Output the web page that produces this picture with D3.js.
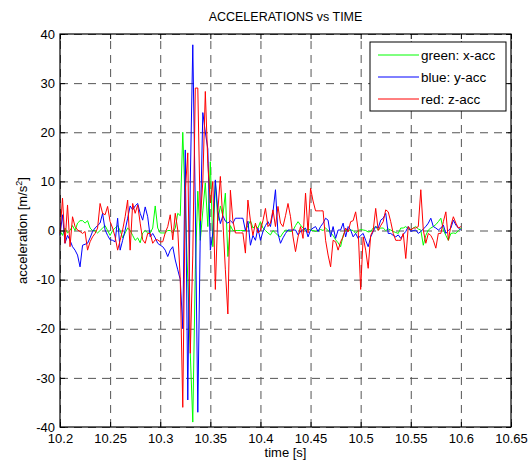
<!DOCTYPE html>
<html>
<head>
<meta charset="utf-8">
<script src="https://cdn.jsdelivr.net/npm/d3@7"></script>
<style>
  body { margin: 0; background: #fff; }
  svg text { font-family: "Liberation Sans", Arial, Helvetica, sans-serif; fill: #000; }
</style>
</head>
<body>
<div id="chart"></div>
<script>
// ============================================================
// Accelerations vs time (MATLAB-style line plot)
// ============================================================

// ── data ────────────────────────────────────────────────────
const T_START = 10.2;     // first sample [s]
const T_STEP  = 0.0025;   // sample interval [s]

const X_TICKS = [10.2, 10.25, 10.3, 10.35, 10.4, 10.45, 10.5, 10.55, 10.6, 10.65];
const Y_TICKS = [-40, -30, -20, -10, 0, 10, 20, 30, 40];

const GREEN_X_ACC = [
  0, -1, 0.5, -0.5, 0, 1, 0, 1.5, 2, 2,
  1.5, 2, 0.5, 0, 0, -0.5, 0, 0.5, 1, 0,
  -1, 0, 0.5, 1, 0, -1.5, -0.5, 0.5, 0, -1,
  -2, -1.5, -2.5, -0.5, 0, -0.5, -0.5, 0.5, 5, 0.5,
  -0.5, -0.5, -0.5, 0, 0, -0.5, 0.5, 3.5, 3, 20,
  5, -10, -25, -39, -8, 8, -2, 4, 9.7, 0.8,
  14, -3.3, 9.7, 2, 5, 3, 7.6, -5.3, 1, 0,
  0, 0, 0, 0, 0, 1, 2, 0.5, 1, 0.5,
  1.8, 0.5, 0, -0.5, -0.9, 0, -0.5, -1, -1.3, -0.5,
  0.1, 0, -0.2, 0, 1, 1.8, 1.1, 0.5, 0, 0.3,
  0.1, 0, -0.2, 0, 0.2, 0, 0.5, 0, -0.5, -1,
  -1.9, -2.5, -3.3, -1, 0.1, 0, 0.1, 0, -0.6, 0,
  0.2, 0.1, 0, -0.3, -0.2, 0.5, 0.8, 0.1, 0.5, 0.5,
  0, 0.3, 0.1, -0.2, -0.4, -0.6, 0.5, 0.5, 0.8, 0.3,
  0.1, 0.5, 0.8, 0.3, 0.1, -3, -1, 0.1, 0.5, 0.8,
  1.2, 1.8, 2.5, 0.1, -1, -2, -0.6, -0.5, -0.6, 0,
  0.5
];

const BLUE_Y_ACC = [
  -1, 3.2, -2.6, -1, -2, -3.3, -4, -5, -7.4, -3,
  -2.8, -2.6, -1.5, -0.2, 0.5, 1, 1.5, 3.5, 0.1, -1,
  -1.9, -2, -2.3, 2.5, -4, -2, 0.1, 2.5, 5, 4.2,
  5, 5.5, 3.5, 2.1, 4.8, 2.8, -1.3, -0.6, -1.5, -2.6,
  -3, -3.3, -4, -5.3, -4, -3.3, -6, -8, -10, -20,
  16.4, -34.5, 10, 37.8, 5, -37, 0, 24, 20, 16.6,
  -4, -0.5, 10.3, 4, 1.4, 3, 1.9, 1.5, 2, 1.5,
  2.5, 2.5, 2.5, 2.5, 0, 1.9, -3, -1, -2, 0.5,
  -2, -0.2, 1, 1.8, 0.8, 3.8, 8.3, -0.6, -2.6, -1.5,
  -0.6, 0.1, 0.1, 0.1, 0.1, -0.9, -0.2, 0.2, 0.5, -1.3,
  0.1, 0.5, 0.8, -0.2, 0.8, 1.5, 2.5, 2.1, -1.3, 0.8,
  -1.6, 0.1, 0.1, 1.5, -1.3, 0.8, 0.1, -1.3, -0.6, -1.6,
  -1, -0.6, -2, -3.3, -1.3, -0.2, 0.8, 0.5, 2.1, 2.5,
  3.5, -0.6, -0.6, -1, -1.3, -0.9, -1.6, -0.8, -0.2, 0.8,
  -0.2, 0, 0.1, -0.6, -0.2, 0.3, 0.8, 1.5, 2.5, 0.8,
  0.5, 0.1, 0.5, 1.1, -0.6, 0, 0.5, 2.1, 1.1, 0.5,
  0.1
];

const RED_Z_ACC = [
  -0.6, 6.6, -2.6, 5.2, -3.3, 2.8, 0.8, 0.1, -0.2, -0.6,
  -0.2, -4, -2.3, -1.3, -0.6, 0.5, 5.5, 3.5, 3.2, 4.9,
  1.8, 0.5, -1.3, -4, -2, 0.1, 2.8, 6.2, -4, 5.5,
  3.5, 5.2, 1.5, -1.9, -2.6, -0.6, -0.6, -2.6, -1.9, -1.9,
  -2.3, -2.3, -0.5, 0.8, 3.2, -1.9, 3.5, 0.1, -10, -36,
  8, 15.8, -25, -5, 29, 29, 2, 10, 28.3, 13.7,
  5.6, 10, -12, 4, 11, 2, -8, -17, 8.2, 2,
  -0.5, -0.5, -0.5, -0.5, -4.6, 6.2, 2, -1, 1.5, -0.5,
  0, 2, 4.5, 0.8, 1.5, 4.2, 0.8, 4.9, 1.5, 0.8,
  3, 5.5, 2.8, -1.3, -4.3, -1.3, 0.8, -1.6, 7.6, -0.5,
  8.6, 6, 4, 4, 4, 4, -2, -5, -7.4, -2,
  -2.3, -4, -2.3, -1.3, 0.5, -0.3, 1.8, 2, 3.8, 0.1,
  -12, -1.3, -4, -7.7, -1, 0, 4.5, 0, 1, 1.8,
  4.2, 3.8, 1.8, -0.6, -2, -2, -2, -0.6, -5.7, 0.8,
  0.1, 0.5, 0.5, 0.8, 8.3, 0.1, -2.6, -0.6, -1, -2,
  -3.6, -0.6, -0.6, 1.8, 3.8, -2, 1, 2.8, 1.5, 0.5,
  0.8
];

const SERIES_LABELS = ["green: x-acc", "blue: y-acc", "red: z-acc"];

(function () {
  // Dimensions
  const W = 530, H = 469;
  const MARGIN = { top: 34, right: 19, bottom: 42, left: 60 };
  const WIDTH  = W - MARGIN.left - MARGIN.right;
  const HEIGHT = H - MARGIN.top  - MARGIN.bottom;

  const COLOURS = ["#00ff00", "#0000ff", "#ff0000"];
  const TICK = 5;

  const series = [GREEN_X_ACC, BLUE_Y_ACC, RED_Z_ACC].map((vals, k) => ({
    label: SERIES_LABELS[k],
    colour: COLOURS[k],
    points: vals.map((v, i) => ({ t: T_START + i * T_STEP, v }))
  }));

  const svg = d3.select("#chart").append("svg")
    .attr("width", W).attr("height", H);

  svg.append("rect").attr("width", W).attr("height", H).attr("fill", "#fff");

  const g = svg.append("g")
    .attr("transform", `translate(${MARGIN.left},${MARGIN.top})`);

  const x = d3.scaleLinear().domain([10.2, 10.65]).range([0, WIDTH]);
  const y = d3.scaleLinear().domain([-40, 40]).range([HEIGHT, 0]);

  const fmt = d => String(+d.toFixed(2));

  // ── grid (dashed, behind data) ──
  g.append("g").attr("class", "grid")
    .attr("transform", `translate(0,${HEIGHT})`)
    .call(d3.axisBottom(x).tickValues(X_TICKS).tickSize(-HEIGHT).tickFormat(""))
    .call(s => s.select(".domain").remove());
  g.append("g").attr("class", "grid")
    .call(d3.axisLeft(y).tickValues(Y_TICKS).tickSize(-WIDTH).tickFormat(""))
    .call(s => s.select(".domain").remove());
  g.selectAll(".grid line")
    .attr("stroke", "#555")
    .attr("stroke-width", 1)
    .attr("stroke-dasharray", "8,6");

  // ── lines ──
  const line = d3.line().x(d => x(d.t)).y(d => y(d.v));
  g.selectAll(".series").data(series).join("path")
    .attr("class", "series")
    .attr("fill", "none")
    .attr("stroke", d => d.colour)
    .attr("stroke-width", 1)
    .attr("stroke-linejoin", "miter")
    .attr("d", d => line(d.points));

  // ── axes (ticks inside, box on) ──
  const styleAxis = s => {
    s.select(".domain").remove();
    s.selectAll("line").attr("stroke", "#000");
    s.selectAll("text").style("font-size", "13px").attr("fill", "#000");
  };

  g.append("g").attr("transform", `translate(0,${HEIGHT})`)
    .call(d3.axisBottom(x).tickValues(X_TICKS).tickSize(-TICK).tickPadding(7).tickFormat(fmt))
    .call(styleAxis);
  g.append("g")
    .call(d3.axisTop(x).tickValues(X_TICKS).tickSize(-TICK).tickFormat(""))
    .call(styleAxis);
  g.append("g")
    .call(d3.axisLeft(y).tickValues(Y_TICKS).tickSize(-TICK).tickPadding(5).tickFormat(d => String(d)))
    .call(styleAxis);
  g.append("g").attr("transform", `translate(${WIDTH},0)`)
    .call(d3.axisRight(y).tickValues(Y_TICKS).tickSize(-TICK).tickFormat(""))
    .call(styleAxis);

  g.append("rect")
    .attr("width", WIDTH).attr("height", HEIGHT)
    .attr("fill", "none").attr("stroke", "#000").attr("stroke-width", 1.2);

  // ── title & labels ──
  svg.append("text")
    .attr("x", MARGIN.left + WIDTH / 2).attr("y", 20.5)
    .attr("text-anchor", "middle")
    .style("font-size", "12.5px")
    .text("ACCELERATIONS vs TIME");

  svg.append("text")
    .attr("x", MARGIN.left + WIDTH / 2).attr("y", 457)
    .attr("text-anchor", "middle")
    .style("font-size", "13px")
    .text("time [s]");

  const yl = svg.append("text")
    .attr("transform", `translate(27,${MARGIN.top + HEIGHT / 2}) rotate(-90)`)
    .attr("text-anchor", "middle")
    .style("font-size", "13px");
  yl.append("tspan").text("acceleration [m/s");
  yl.append("tspan").attr("dy", -5).style("font-size", "9px").text("2");
  yl.append("tspan").attr("dy", 5).text("]");

  // ── legend ──
  const LEG = { x: 370, y: 42, w: 136, h: 69, row: 22 };
  const legend = svg.append("g").attr("class", "legend")
    .attr("transform", `translate(${LEG.x},${LEG.y})`);
  legend.append("rect")
    .attr("width", LEG.w).attr("height", LEG.h)
    .attr("fill", "#fff").attr("stroke", "#000").attr("stroke-width", 1);
  series.forEach((s, i) => {
    const ry = 13 + i * LEG.row;
    legend.append("line")
      .attr("x1", 8).attr("x2", 49).attr("y1", ry).attr("y2", ry)
      .attr("stroke", s.colour).attr("stroke-width", 1);
    legend.append("text")
      .attr("x", 51).attr("y", ry).attr("dy", "0.35em")
      .style("font-size", "13.5px")
      .text(s.label);
  });
})();
</script>
</body>
</html>
